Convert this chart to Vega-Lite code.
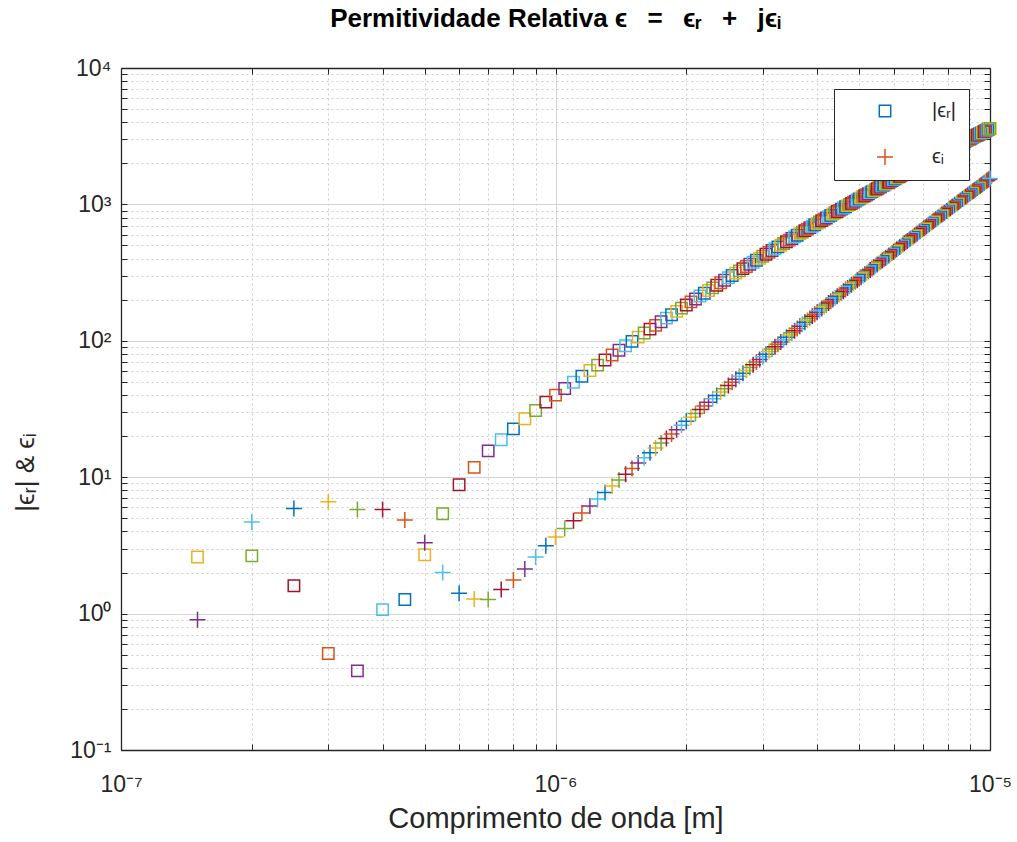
{
"$schema":"https://vega.github.io/schema/vega-lite/v6.json",
"width":869,"height":682,
"autosize":{"type":"none"},
"padding":{"left":121,"top":68,"right":27,"bottom":92},
"background":"white",
"config":{"view":{"stroke":null},"font":"Liberation Sans"},
"title":{"text":"Permitividade Relativa ϵ\u2002 =\u2002 ϵᵣ\u2002 +\u2002 jϵᵢ","fontSize":26,"fontWeight":"bold","font":"Liberation Sans","color":"#000000","anchor":"middle","frame":"group","baseline":"alphabetic","offset":4},
"data":{"values":[
{"w":1.5e-7,"er":2.6,"ei":0.9},{"w":2e-7,"er":2.65,"ei":4.7},{"w":2.5e-7,"er":1.6,"ei":5.9},{"w":3e-7,"er":0.51,"ei":6.6},{"w":3.5e-7,"er":0.38,"ei":5.8},{"w":4e-7,"er":1.07,"ei":5.8},{"w":4.5e-7,"er":1.27,"ei":4.85},{"w":5e-7,"er":2.7,"ei":3.3},{"w":5.5e-7,"er":5.4,"ei":2.0},{"w":6e-7,"er":8.8,"ei":1.41},{"w":6.5e-7,"er":11.8,"ei":1.28},{"w":7e-7,"er":15.6,"ei":1.27},{"w":7.5e-7,"er":18.8,"ei":1.5},{"w":8e-7,"er":22.6,"ei":1.76},{"w":8.5e-7,"er":26.8,"ei":2.12},{"w":9e-7,"er":30.8,"ei":2.6},{"w":9.5e-7,"er":35.5,"ei":3.14},
{"w":1e-6,"er":40.0,"ei":3.65},{"w":1.05e-6,"er":44.7,"ei":4.2},{"w":1.1e-6,"er":49.7,"ei":4.8},{"w":1.15e-6,"er":55.0,"ei":5.46},{"w":1.2e-6,"er":60.5,"ei":6.16},{"w":1.25e-6,"er":66.3,"ei":6.92},{"w":1.3e-6,"er":72.3,"ei":7.74},{"w":1.35e-6,"er":78.6,"ei":8.61},{"w":1.4e-6,"er":85.2,"ei":9.54},{"w":1.45e-6,"er":92.0,"ei":10.5},{"w":1.5e-6,"er":99.1,"ei":11.6},{"w":1.55e-6,"er":106.4,"ei":12.7},{"w":1.6e-6,"er":114.0,"ei":13.9},{"w":1.65e-6,"er":121.8,"ei":15.1},{"w":1.7e-6,"er":129.8,"ei":16.4},{"w":1.75e-6,"er":138.1,"ei":17.8},{"w":1.8e-6,"er":146.6,"ei":19.2},{"w":1.85e-6,"er":155.4,"ei":20.7},{"w":1.9e-6,"er":164.4,"ei":22.3},{"w":1.95e-6,"er":173.6,"ei":24.0},
{"w":2e-6,"er":183.0,"ei":25.7},{"w":2.05e-6,"er":192.8,"ei":27.5},{"w":2.1e-6,"er":202.6,"ei":29.3},{"w":2.15e-6,"er":212.8,"ei":31.3},{"w":2.2e-6,"er":223.2,"ei":33.3},{"w":2.25e-6,"er":233.8,"ei":35.4},{"w":2.3e-6,"er":244.5,"ei":37.6},{"w":2.35e-6,"er":255.5,"ei":39.8},{"w":2.4e-6,"er":266.7,"ei":42.1},{"w":2.45e-6,"er":278.2,"ei":44.5},{"w":2.5e-6,"er":289.7,"ei":47.0},{"w":2.55e-6,"er":301.5,"ei":49.6},{"w":2.6e-6,"er":313.6,"ei":52.2},{"w":2.65e-6,"er":325.7,"ei":54.9},{"w":2.7e-6,"er":338.2,"ei":57.8},{"w":2.75e-6,"er":350.9,"ei":60.6},{"w":2.8e-6,"er":363.8,"ei":63.6},{"w":2.85e-6,"er":376.7,"ei":66.7},{"w":2.9e-6,"er":389.9,"ei":69.9},{"w":2.95e-6,"er":403.4,"ei":73.0},
{"w":3e-6,"er":417.0,"ei":76.4},{"w":3.05e-6,"er":430.8,"ei":79.8},{"w":3.1e-6,"er":444.8,"ei":83.3},{"w":3.15e-6,"er":458.9,"ei":86.9},{"w":3.2e-6,"er":473.2,"ei":90.5},{"w":3.25e-6,"er":487.8,"ei":94.3},{"w":3.3e-6,"er":502.3,"ei":98.1},{"w":3.35e-6,"er":517.1,"ei":102.0},{"w":3.4e-6,"er":532.3,"ei":106.1},{"w":3.45e-6,"er":547.4,"ei":110.2},{"w":3.5e-6,"er":563.0,"ei":114.5},{"w":3.55e-6,"er":578.3,"ei":118.7},{"w":3.6e-6,"er":594.1,"ei":123.1},{"w":3.65e-6,"er":610.1,"ei":127.6},{"w":3.7e-6,"er":626.1,"ei":132.2},{"w":3.75e-6,"er":642.2,"ei":136.9},{"w":3.8e-6,"er":658.7,"ei":141.6},{"w":3.85e-6,"er":675.4,"ei":146.6},{"w":3.9e-6,"er":692.1,"ei":151.5},{"w":3.95e-6,"er":708.8,"ei":156.5},
{"w":4e-6,"er":726.2,"ei":161.7},{"w":4.05e-6,"er":743.0,"ei":167.0},{"w":4.1e-6,"er":760.3,"ei":172.3},{"w":4.15e-6,"er":777.7,"ei":177.7},{"w":4.2e-6,"er":795.3,"ei":183.2},{"w":4.25e-6,"er":813.3,"ei":188.9},{"w":4.3e-6,"er":831.3,"ei":194.7},{"w":4.35e-6,"er":849.4,"ei":200.5},{"w":4.4e-6,"er":867.6,"ei":206.5},{"w":4.45e-6,"er":886.0,"ei":212.5},{"w":4.5e-6,"er":904.3,"ei":218.6},{"w":4.55e-6,"er":923.0,"ei":224.8},{"w":4.6e-6,"er":941.9,"ei":231.2},{"w":4.65e-6,"er":960.9,"ei":237.6},{"w":4.7e-6,"er":979.7,"ei":244.1},{"w":4.75e-6,"er":998.9,"ei":250.7},{"w":4.8e-6,"er":1018,"ei":257.3},{"w":4.85e-6,"er":1038,"ei":264.2},{"w":4.9e-6,"er":1057,"ei":271.2},{"w":4.95e-6,"er":1077,"ei":278.3},
{"w":5e-6,"er":1097,"ei":285.5},{"w":5.05e-6,"er":1117,"ei":292.6},{"w":5.1e-6,"er":1137,"ei":300.0},{"w":5.15e-6,"er":1157,"ei":307.4},{"w":5.2e-6,"er":1177,"ei":314.9},{"w":5.25e-6,"er":1198,"ei":322.6},{"w":5.3e-6,"er":1219,"ei":330.4},{"w":5.35e-6,"er":1240,"ei":338.3},{"w":5.4e-6,"er":1260,"ei":346.2},{"w":5.45e-6,"er":1281,"ei":354.3},{"w":5.5e-6,"er":1302,"ei":362.5},{"w":5.55e-6,"er":1324,"ei":370.8},{"w":5.6e-6,"er":1345,"ei":379.2},{"w":5.65e-6,"er":1367,"ei":387.8},{"w":5.7e-6,"er":1388,"ei":396.3},{"w":5.75e-6,"er":1410,"ei":405.0},{"w":5.8e-6,"er":1432,"ei":413.9},{"w":5.85e-6,"er":1453,"ei":422.7},{"w":5.9e-6,"er":1475,"ei":431.8},{"w":5.95e-6,"er":1497,"ei":440.7},
{"w":6e-6,"er":1520,"ei":450.1},{"w":6.05e-6,"er":1542,"ei":459.5},{"w":6.1e-6,"er":1565,"ei":469.0},{"w":6.15e-6,"er":1588,"ei":478.5},{"w":6.2e-6,"er":1610,"ei":488.2},{"w":6.25e-6,"er":1633,"ei":498.0},{"w":6.3e-6,"er":1657,"ei":508.1},{"w":6.35e-6,"er":1680,"ei":518.0},{"w":6.4e-6,"er":1702,"ei":528.0},{"w":6.45e-6,"er":1726,"ei":538.3},{"w":6.5e-6,"er":1749,"ei":548.4},{"w":6.55e-6,"er":1772,"ei":559.0},{"w":6.6e-6,"er":1796,"ei":569.5},{"w":6.65e-6,"er":1820,"ei":580.3},{"w":6.7e-6,"er":1843,"ei":590.8},{"w":6.75e-6,"er":1867,"ei":601.6},{"w":6.8e-6,"er":1891,"ei":612.6},{"w":6.85e-6,"er":1915,"ei":623.8},{"w":6.9e-6,"er":1939,"ei":635.2},{"w":6.95e-6,"er":1963,"ei":646.4},
{"w":7e-6,"er":1988,"ei":657.8},{"w":7.05e-6,"er":2013,"ei":669.4},{"w":7.1e-6,"er":2037,"ei":681.2},{"w":7.15e-6,"er":2061,"ei":692.7},{"w":7.2e-6,"er":2087,"ei":704.8},{"w":7.25e-6,"er":2111,"ei":716.7},{"w":7.3e-6,"er":2136,"ei":728.9},{"w":7.35e-6,"er":2160,"ei":740.8},{"w":7.4e-6,"er":2186,"ei":753.3},{"w":7.45e-6,"er":2211,"ei":765.6},{"w":7.5e-6,"er":2236,"ei":778.1},{"w":7.55e-6,"er":2261,"ei":790.8},{"w":7.6e-6,"er":2286,"ei":803.3},{"w":7.65e-6,"er":2312,"ei":816.4},{"w":7.7e-6,"er":2337,"ei":829.3},{"w":7.75e-6,"er":2363,"ei":842.4},{"w":7.8e-6,"er":2389,"ei":855.7},{"w":7.85e-6,"er":2415,"ei":869.2},{"w":7.9e-6,"er":2442,"ei":882.9},{"w":7.95e-6,"er":2467,"ei":896.3},
{"w":8e-6,"er":2493,"ei":909.8},{"w":8.05e-6,"er":2518,"ei":923.5},{"w":8.1e-6,"er":2545,"ei":937.3},{"w":8.15e-6,"er":2571,"ei":951.4},{"w":8.2e-6,"er":2597,"ei":965.2},{"w":8.25e-6,"er":2624,"ei":979.5},{"w":8.3e-6,"er":2650,"ei":993.7},{"w":8.35e-6,"er":2676,"ei":1008},{"w":8.4e-6,"er":2703,"ei":1023},{"w":8.45e-6,"er":2730,"ei":1038},{"w":8.5e-6,"er":2756,"ei":1052},{"w":8.55e-6,"er":2784,"ei":1067},{"w":8.6e-6,"er":2811,"ei":1082},{"w":8.65e-6,"er":2838,"ei":1097},{"w":8.7e-6,"er":2865,"ei":1112},{"w":8.75e-6,"er":2893,"ei":1128},{"w":8.8e-6,"er":2920,"ei":1144},{"w":8.85e-6,"er":2948,"ei":1159},{"w":8.9e-6,"er":2976,"ei":1175},{"w":8.95e-6,"er":3004,"ei":1191},
{"w":9e-6,"er":3031,"ei":1207},{"w":9.05e-6,"er":3058,"ei":1223},{"w":9.1e-6,"er":3086,"ei":1239},{"w":9.15e-6,"er":3114,"ei":1255},{"w":9.2e-6,"er":3141,"ei":1271},{"w":9.25e-6,"er":3170,"ei":1288},{"w":9.3e-6,"er":3197,"ei":1304},{"w":9.35e-6,"er":3225,"ei":1321},{"w":9.4e-6,"er":3254,"ei":1338},{"w":9.45e-6,"er":3282,"ei":1355},{"w":9.5e-6,"er":3311,"ei":1372},{"w":9.55e-6,"er":3338,"ei":1389},{"w":9.6e-6,"er":3367,"ei":1406},{"w":9.65e-6,"er":3396,"ei":1424},{"w":9.7e-6,"er":3424,"ei":1441},{"w":9.75e-6,"er":3452,"ei":1459},{"w":9.8e-6,"er":3482,"ei":1477},{"w":9.85e-6,"er":3511,"ei":1495},{"w":9.9e-6,"er":3540,"ei":1513},{"w":9.95e-6,"er":3569,"ei":1531},{"w":1e-5,"er":3597,"ei":1549}
]},
"transform":[
{"fold":["er","ei"],"as":["series","v"]},
{"calculate":"(2*(round(datum.w*1e9/50)-2) + (datum.series==='ei'?1:0)) % 7","as":"slot"}
],
"layer":[
{"mark":{"type":"point","filled":false,"opacity":1,"strokeWidth":1.5},
 "encoding":{
  "x":{"field":"w","type":"quantitative","scale":{"type":"log","domain":[1e-7,1e-5],"nice":false},
   "axis":{"orient":"bottom","values":[1e-7,2e-7,3e-7,4e-7,5e-7,6e-7,7e-7,8e-7,9e-7,1e-6,2e-6,3e-6,4e-6,5e-6,6e-6,7e-6,8e-6,9e-6,1e-5],
    "labelExpr":"datum.value===1e-7?'10⁻⁷':datum.value===1e-6?'10⁻⁶':datum.value===1e-5?'10⁻⁵':''",
    "labelOverlap":false,"labelFlush":false,"labelFontSize":23,"labelColor":"#262626","labelPadding":29,
    "grid":true,
    "gridColor":{"condition":{"test":"indexof([1e-7,1e-6,1e-5],datum.value)>=0","value":"#d4d4d4"},"value":"#cccccc"},
    "gridDash":{"condition":{"test":"indexof([1e-7,1e-6,1e-5],datum.value)>=0","value":[]},"value":[2,3]},
    "gridOpacity":{"condition":{"test":"datum.value<1.5e-7||datum.value>9.5e-6","value":0},"value":1},
    "ticks":true,"tickSize":-6,"tickColor":"#262626","domain":true,"domainColor":"#262626","domainWidth":1.3,
    "title":"Comprimento de onda [m]","titleFontSize":29,"titleFontWeight":"normal","titleColor":"#262626","titleY":77,"titleBaseline":"alphabetic"}},
  "y":{"field":"v","type":"quantitative","scale":{"type":"log","domain":[0.1,10000],"nice":false},
   "axis":{"orient":"left","values":[0.1,0.2,0.3,0.4,0.5,0.6,0.7,0.8,0.9,1,2,3,4,5,6,7,8,9,10,20,30,40,50,60,70,80,90,100,200,300,400,500,600,700,800,900,1000,2000,3000,4000,5000,6000,7000,8000,9000,10000],
    "labelExpr":"datum.value===0.1?'10⁻¹':datum.value===1?'10⁰':datum.value===10?'10¹':datum.value===100?'10²':datum.value===1000?'10³':datum.value===10000?'10⁴':''",
    "labelOverlap":false,"labelFlush":false,"labelFontSize":23,"labelColor":"#262626","labelPadding":16,
    "grid":true,
    "gridColor":{"condition":{"test":"indexof([0.1,1,10,100,1000,10000],datum.value)>=0","value":"#d4d4d4"},"value":"#cccccc"},
    "gridDash":{"condition":{"test":"indexof([0.1,1,10,100,1000,10000],datum.value)>=0","value":[]},"value":[2,3]},
    "gridOpacity":{"condition":{"test":"datum.value<0.15||datum.value>9500","value":0},"value":1},
    "ticks":true,"tickSize":-6,"tickColor":"#262626","domain":true,"domainColor":"#262626","domainWidth":1.3,
    "title":"|ϵᵣ| & ϵᵢ","titleFontSize":26,"titleFontWeight":"normal","titleColor":"#262626","titleX":-96,"titleY":404,"titleAngle":-90,"titleAlign":"center","titleBaseline":"middle"}},
  "shape":{"field":"series","type":"nominal","scale":{"domain":["er","ei"],"range":["square","M-1,0L1,0M0,-1L0,1"]},
   "legend":{"orient":"top-right","offset":21,"title":null,"labelExpr":"datum.value==='er'?'|ϵᵣ|':'ϵᵢ'","symbolStrokeWidth":1.5,"symbolStrokeColor":{"expr":"datum.value==='er'?'#0072BD':'#D95319'"},"symbolFillColor":"transparent","labelFontSize":20,"labelColor":"#262626","strokeColor":"#262626","fillColor":"white","padding":12,"rowPadding":25,"symbolOffset":29,"labelOffset":37,"cornerRadius":0}},
  "size":{"field":"series","type":"nominal","scale":{"domain":["er","ei"],"range":[130,256]},
   "legend":{"orient":"top-right","offset":21,"title":null,"labelExpr":"datum.value==='er'?'|ϵᵣ|':'ϵᵢ'","symbolStrokeWidth":1.5,"symbolStrokeColor":{"expr":"datum.value==='er'?'#0072BD':'#D95319'"},"symbolFillColor":"transparent","labelFontSize":20,"labelColor":"#262626","strokeColor":"#262626","fillColor":"white","padding":12,"rowPadding":25,"symbolOffset":29,"labelOffset":37,"cornerRadius":0}},
  "color":{"field":"slot","type":"nominal","scale":{"domain":[0,1,2,3,4,5,6],"range":["#0072BD","#D95319","#EDB120","#7E2F8E","#77AC30","#4DBEEE","#A2142F"]},"legend":null}
 }},
{"mark":{"type":"point","opacity":0},
 "encoding":{
  "x":{"field":"w","type":"quantitative","axis":{"orient":"top","values":[1e-7,2e-7,3e-7,4e-7,5e-7,6e-7,7e-7,8e-7,9e-7,1e-6,2e-6,3e-6,4e-6,5e-6,6e-6,7e-6,8e-6,9e-6,1e-5],"labels":false,"grid":false,"ticks":true,"tickSize":-6,"tickColor":"#262626","domain":true,"domainColor":"#262626","domainWidth":1.3,"title":null}},
  "y":{"field":"v","type":"quantitative","axis":{"orient":"right","values":[0.1,0.2,0.3,0.4,0.5,0.6,0.7,0.8,0.9,1,2,3,4,5,6,7,8,9,10,20,30,40,50,60,70,80,90,100,200,300,400,500,600,700,800,900,1000,2000,3000,4000,5000,6000,7000,8000,9000,10000],"labels":false,"grid":false,"ticks":true,"tickSize":-6,"tickColor":"#262626","domain":true,"domainColor":"#262626","domainWidth":1.3,"title":null}}
 }}
],
"resolve":{"axis":{"x":"independent","y":"independent"}}
}
